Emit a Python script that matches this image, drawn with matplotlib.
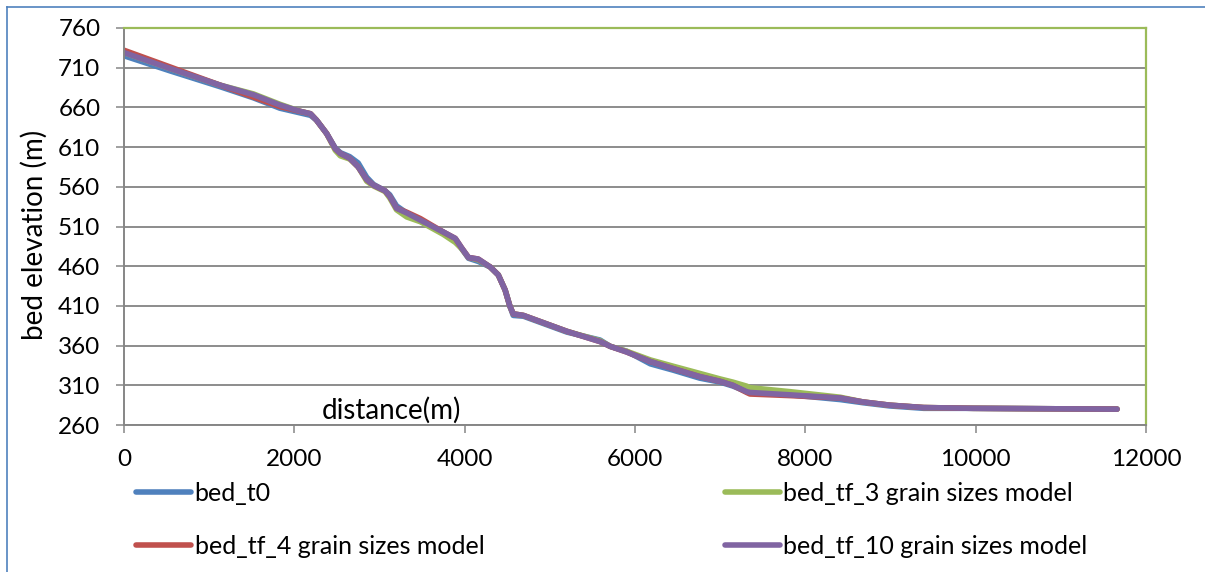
import matplotlib
matplotlib.use("Agg")
import matplotlib.pyplot as plt
from matplotlib.lines import Line2D

plt.rcParams['font.family'] = ['Lato', 'DejaVu Sans']

# Longitudinal bed profile along the reach
distance = [0, 540, 1130, 1520, 1830, 2070, 2190, 2260, 2380, 2480, 2540, 2650,
            2750, 2850, 2930, 3065, 3120, 3200, 3320, 3480, 3750, 3890, 3965,
            4045, 4160, 4300, 4395, 4475, 4530, 4570, 4690, 5200, 5590, 5710,
            5900, 6180, 6450, 6760, 7000, 7150, 7310, 7350, 7820, 8410, 8680,
            8990, 9390, 9970, 11660]

bed_t0 = [725, 706, 686, 672, 659, 653, 650, 644, 627, 609, 603, 598,
          590, 572, 563, 555, 550, 536, 527, 517, 503, 494, 482,
          470, 466, 459, 449, 430, 410, 398, 397, 377, 367, 359,
          353, 337, 329, 319, 314, 309, 302, 301, 298, 292, 288,
          284, 281, 281, 280]

bed_tf_3 = [729, 709, 688, 677, 664, 655, 652, 644, 627, 606, 599, 595,
            585, 567, 561, 554, 546, 531, 522, 516, 500, 490, 482,
            471, 468, 459, 449, 430, 410, 400, 398, 378, 366, 359,
            353, 342, 334, 325, 318, 314, 309, 307, 302, 295, 289,
            285, 282, 281, 280]

bed_tf_4 = [732, 711, 688, 673, 661, 655, 652, 644, 627, 608, 602, 596,
            585, 569, 562, 555, 548, 533, 528, 520, 503, 495, 483,
            471, 469, 459, 449, 430, 410, 400, 398, 378, 365, 359,
            352, 340, 331, 321, 315, 310, 301, 299, 297, 294, 289,
            285, 282, 281, 280]

bed_tf_10 = [729, 709, 688, 676, 663, 655, 652, 644, 627, 608, 602, 596,
             585, 569, 562, 555, 548, 533, 527, 518, 503, 495, 483,
             471, 469, 459, 449, 430, 410, 400, 398, 378, 365, 359,
             352, 340, 331, 321, 315, 310, 302, 301, 298, 294, 289,
             285, 282, 281, 280]

series_labels = ["bed_t0", "bed_tf_3 grain sizes model",
                 "bed_tf_4 grain sizes model", "bed_tf_10 grain sizes model"]
series_colors = ["#4F81BD", "#9BBB59", "#C0504D", "#8064A2"]

x_ticks = [0, 2000, 4000, 6000, 8000, 10000, 12000]
y_ticks = [260, 310, 360, 410, 460, 510, 560, 610, 660, 710, 760]

W, H = 1205, 572
fig = plt.figure(figsize=(W / 100, H / 100), dpi=100)
ax = fig.add_axes([124 / W, 1 - 425 / H, (1146 - 124) / W, (425 - 28) / H])

handles = []
for ys, lab, col in zip([bed_t0, bed_tf_3, bed_tf_4, bed_tf_10],
                        series_labels, series_colors):
    h, = ax.plot(distance, ys, color=col, lw=4.0, label=lab,
                 solid_capstyle='round', solid_joinstyle='round')
    handles.append(h)

ax.set_xlim(0, 12000)
ax.set_ylim(260, 760)
ax.set_xticks(x_ticks)
ax.set_yticks(y_ticks)
ax.tick_params(axis='both', labelsize=17.5, color='#868686', length=6,
               width=1.1, pad=11)

ax.grid(axis='y', color='#8C8C8C', lw=1.4)
ax.set_axisbelow(True)
for side in ('left', 'bottom'):
    ax.spines[side].set_color('#868686')
    ax.spines[side].set_linewidth(1.4)
for side in ('top', 'right'):
    ax.spines[side].set_color('#9BBB59')
    ax.spines[side].set_linewidth(1.6)

ax.set_ylabel("bed elevation (m)", fontsize=20)
ax.yaxis.set_label_coords(-0.075, 0.48)
ax.text(0.262, 0.036, "distance(m)", transform=ax.transAxes, fontsize=20,
        ha='center', va='center')

order = [0, 2, 1, 3]
leg = fig.legend([handles[i] for i in order], [series_labels[i] for i in order],
                 ncol=2, loc='upper left', bbox_to_anchor=(136 / W, 1 - 482 / H),
                 frameon=False, fontsize=18, handlelength=2.2,
                 handletextpad=0.15, columnspacing=9.6, labelspacing=1.2,
                 borderaxespad=0, borderpad=0)

# Chart frame edges
fig.add_artist(Line2D([6.5 / W, 1], [1 - 6.5 / H, 1 - 6.5 / H],
                      transform=fig.transFigure, color='#4F81BD', lw=1.2))
fig.add_artist(Line2D([6.5 / W, 6.5 / W], [0, 1 - 6.5 / H],
                      transform=fig.transFigure, color='#4F81BD', lw=1.2))

fig.savefig("out.png", dpi=100, facecolor='white')
